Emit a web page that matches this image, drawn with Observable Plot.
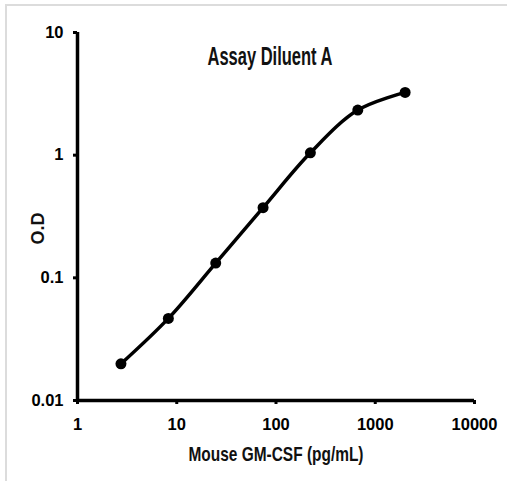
<!DOCTYPE html>
<html>
<head>
<meta charset="utf-8">
<script src="https://cdn.jsdelivr.net/npm/d3@7"></script>
<script src="https://cdn.jsdelivr.net/npm/@observablehq/plot@0.6"></script>
<style>
  html, body { margin: 0; padding: 0; background: #fff; }
  #wrap { position: relative; width: 507px; height: 481px; overflow: hidden; }
  #frame { position: absolute; left: 5px; top: 4px; width: 510px; height: 490px;
           border-top: 2px solid #dcdcdc; border-left: 2px solid #dcdcdc; box-sizing: border-box; }
  #chart { position: absolute; left: 0; top: 0; }
</style>
</head>
<body>
<div id="wrap"><div id="frame"></div><div id="chart"></div></div>
<script>
const title = "Assay Diluent A";
const xTitle = "Mouse GM-CSF (pg/mL)";
const yTitle = "O.D";
const concentrations = [2.74, 8.23, 24.7, 74.1, 222, 667, 2000];
const odValues = [0.0199, 0.0467, 0.132, 0.373, 1.045, 2.33, 3.25];
const xTicks = [1, 10, 100, 1000, 10000];
const yTicks = [0.01, 0.1, 1, 10];

const data = concentrations.map((c, i) => ({x: c, y: odValues[i]}));
const narrow = "'Liberation Sans Narrow', 'Arial Narrow', 'Liberation Sans', Arial, sans-serif";
const sans = "'Liberation Sans', Arial, sans-serif";

const chart = Plot.plot({
  width: 507,
  height: 481,
  marginLeft: 77,
  marginRight: 33,
  marginTop: 32,
  marginBottom: 81,
  style: {background: "transparent", color: "#000", fontFamily: narrow, fontWeight: "bold", fontSize: "16px"},
  x: {type: "log", domain: [1, 10000]},
  y: {type: "log", domain: [0.01, 10]},
  marks: [
    Plot.axisX({ticks: xTicks, tickFormat: d => String(d), tickSize: 4, tickPadding: 14,
      strokeWidth: 3, fontSize: 16.5, label: null}),
    Plot.axisY({ticks: yTicks, tickFormat: d => String(d), tickSize: 4, tickPadding: 10,
      strokeWidth: 3, fontSize: 16.5, label: null}),
    Plot.ruleX([1], {strokeWidth: 3.5, stroke: "#000"}),
    Plot.ruleY([0.01], {strokeWidth: 3.5, stroke: "#000"}),
    Plot.line(data, {x: "x", y: "y", curve: "catmull-rom", stroke: "#000", strokeWidth: 3.5}),
    Plot.dot(data, {x: "x", y: "y", r: 5.5, fill: "#000", stroke: "none"}),
    Plot.text([title], {frameAnchor: "top", dx: -6, dy: 15, fontSize: 25, fontFamily: narrow, fontWeight: "bold", fill: "#111"}),
    Plot.text([xTitle], {frameAnchor: "bottom", dx: 0, dy: 60, fontSize: 21, fontFamily: narrow, fontWeight: "bold", fill: "#111"}),
    Plot.text([yTitle], {frameAnchor: "left", dx: -39, dy: 28, rotate: -90, fontSize: 18, fontFamily: sans, fontWeight: "bold", fill: "#111"})
  ]
});
document.getElementById("chart").appendChild(chart);
d3.select(chart).selectAll("text").each(function() {
  const t = d3.select(this);
  const s = t.text();
  if (s === title) t.attr("textLength", 125).attr("lengthAdjust", "spacingAndGlyphs");
  if (s === xTitle) t.attr("textLength", 175).attr("lengthAdjust", "spacingAndGlyphs");
});
</script>
</body>
</html>
